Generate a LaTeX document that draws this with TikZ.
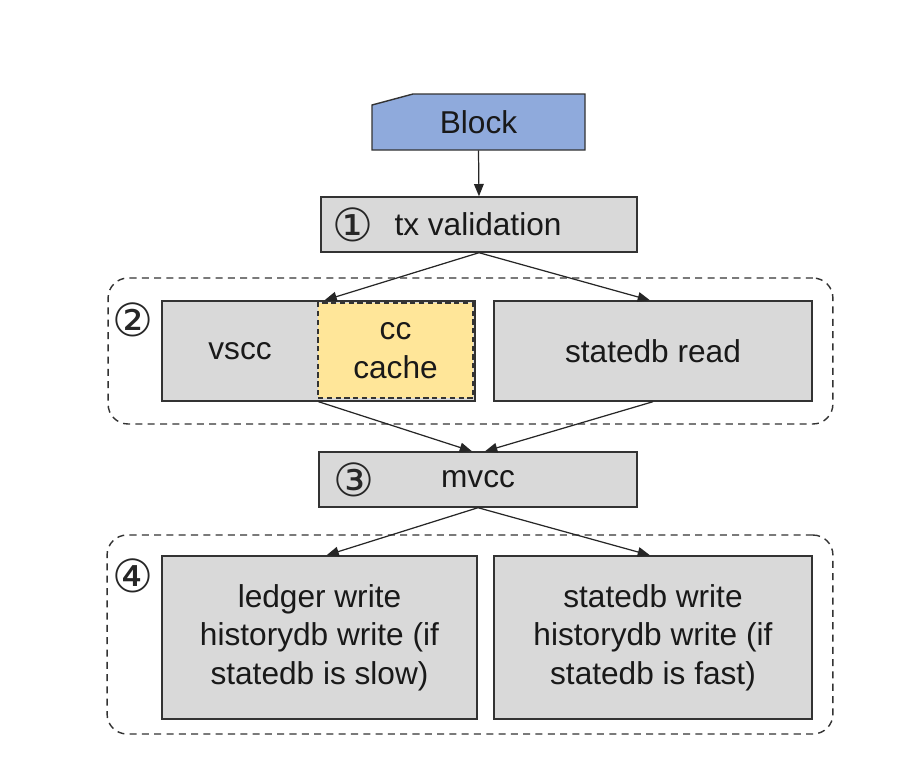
\documentclass[tikz,border=0pt]{standalone}
\usepackage{fontspec}
\setmainfont{Liberation Sans}
\newfontfamily\circfont{DejaVu Sans}
\usetikzlibrary{arrows.meta}
\definecolor{blockblue}{RGB}{143,170,220}
\definecolor{boxgrey}{RGB}{217,217,217}
\definecolor{cacheyellow}{RGB}{255,230,153}
\begin{document}
\begin{tikzpicture}[x=0.02cm,y=-0.02cm,
		stagebox/.style={draw=black!80,line width=0.8pt,fill=boxgrey,inner sep=0pt},
		groupbox/.style={draw=black!80,line width=0.8pt,dash pattern=on 4pt off 3pt,rounded corners=0.4cm,inner sep=0pt},
		stagetext/.style={font=\fontsize{18}{22}\selectfont,text=black!90,align=center,inner sep=0pt},
		stagenum/.style={font=\circfont\fontsize{26}{30}\selectfont,text=black!85,inner sep=0pt},
		flow/.style={-{Triangle[length=7pt,width=5.5pt]},line width=0.7pt,draw=black!85}]
	\useasboundingbox (0,0) rectangle (914,762);

	% dashed groups
	\node[groupbox,minimum width=14.5cm,minimum height=2.92cm] (grp2) at (470.5,351) {};
	\node[groupbox,minimum width=14.52cm,minimum height=3.98cm] (grp4) at (470,634.5) {};
	\node[stagenum] (num2) at (133,320) {②};
	\node[stagenum] (num4) at (133,576) {④};

	% block (cut corner top left)
	\draw[draw=black!80,line width=0.8pt,fill=blockblue]
		   (372,105)
		-- (413,94)
		-- (585,94)
		-- (585,150)
		-- (372,150)
		-- cycle;
	\node[stagetext,minimum width=4.26cm,minimum height=1.12cm] (block) at (478.5,122) {Block};

	% stage 1
	\node[stagebox,minimum width=6.32cm,minimum height=1.1cm] (txval) at (479,224.5) {};
	\node[stagetext] (txtext) at (478,224.5) {tx validation};
	\node[stagenum] (num1) at (353,224.5) {①};

	% stage 2
	\node[stagebox,minimum width=6.26cm,minimum height=2cm] (vscc) at (318.5,351) {};
	\node[stagetext] (vscctext) at (240,351) {vscc};
	\node[draw=black!80,line width=0.8pt,dash pattern=on 3pt off 2pt,fill=cacheyellow,
		minimum width=3.1cm,minimum height=1.9cm,stagetext] (cache) at (395.5,350.5) {cc\\cache};
	\node[stagebox,minimum width=6.36cm,minimum height=2cm,stagetext] (sdread) at (653,351) {statedb read};

	% stage 3
	\node[stagebox,minimum width=6.36cm,minimum height=1.1cm] (mvcc) at (478,479.5) {};
	\node[stagetext] (mvcctext) at (478,479.5) {mvcc};
	\node[stagenum] (num3) at (354,480) {③};

	% stage 4
	\node[stagebox,minimum width=6.3cm,minimum height=3.26cm,stagetext] (ledger) at (319.5,637.5)
		{ledger write\\historydb write (if\\statedb is slow)};
	\node[stagebox,minimum width=6.36cm,minimum height=3.26cm,stagetext] (sdwrite) at (653,637.5)
		{statedb write\\historydb write (if\\statedb is fast)};

	% arrows
	\draw[flow] (block.south) -- (txval.north);
	\draw[flow] (txval.south) -- ([xshift=0.12cm]vscc.north);
	\draw[flow] (txval.south) -- ([xshift=-0.06cm]sdread.north);
	\draw[flow] (vscc.south) -- ([xshift=-0.12cm]mvcc.north);
	\draw[flow] (sdread.south) -- ([xshift=0.14cm]mvcc.north);
	\draw[flow] (mvcc.south) -- ([xshift=0.14cm]ledger.north);
	\draw[flow] (mvcc.south) -- ([xshift=-0.06cm]sdwrite.north);
\end{tikzpicture}
\end{document}
